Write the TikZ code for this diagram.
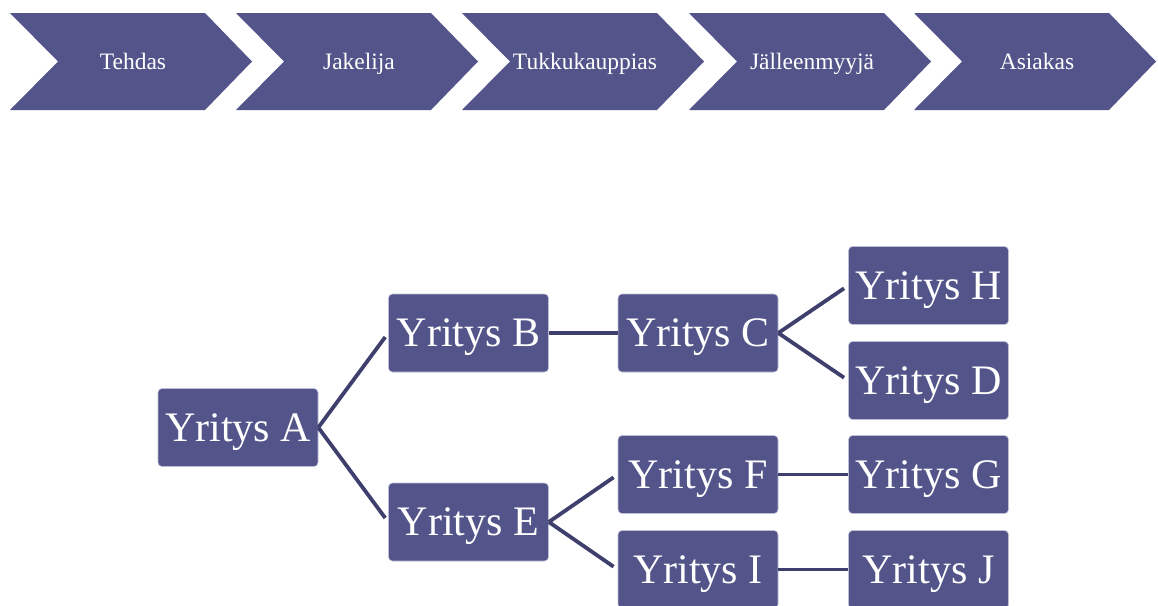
\documentclass[tikz,border=0pt]{standalone}
\usepackage{fontspec}
\setmainfont{Liberation Serif}
\definecolor{boxfill}{RGB}{83,84,138}
\definecolor{linec}{RGB}{62,63,108}
\definecolor{boxedge}{RGB}{190,190,215}
\begin{document}
\begin{tikzpicture}[x=1pt,y=-1pt,
  chev/.style={fill=boxfill},
  chevtext/.style={text=white,font=\fontsize{23.5}{27}\selectfont,inner sep=0pt,anchor=base},
  firm/.style={fill=boxfill,draw=boxedge,line width=0.6pt,rounded corners=4pt,
    minimum width=160pt,minimum height=78pt,inner sep=0pt,text=white,
    font=\fontsize{42}{48}\selectfont,text height=29pt,text depth=2pt},
  link/.style={draw=linec,line width=3.8pt}]
\useasboundingbox[fill=white] (0,0) rectangle (1158,605);
% chevrons
\foreach \L/\t/\n in {10/Tehdas/c1,236/Jakelija/c2,462/Tukkukauppias/c3,689/Jälleenmyyjä/c4,914/Asiakas/c5}{
  \fill[chev] (\L,13) -- (\L+195,13) -- (\L+242,61.5) -- (\L+195,110) -- (\L,110) -- (\L+48,61.5) -- cycle;
  \node[chevtext] (\n) at (\L+123,69) {\t};
}
% firms
\node[firm] (A) at (238,427.5) {Yritys A};
\node[firm] (B) at (468.5,333) {Yritys B};
\node[firm] (E) at (468.5,522) {Yritys E};
\node[firm] (C) at (698,333) {Yritys C};
\node[firm] (F) at (698,474.5) {Yritys F};
\node[firm] (I) at (698,569.5) {Yritys I};
\node[firm] (H) at (928.5,285.5) {Yritys H};
\node[firm] (D) at (928.5,380.5) {Yritys D};
\node[firm] (G) at (928.5,474.5) {Yritys G};
\node[firm] (J) at (928.5,569.5) {Yritys J};
% connectors
\draw[link,shorten >=5pt] (A.east) -- (B.west);
\draw[link,shorten >=5pt] (A.east) -- (E.west);
\draw[link] (B.east) -- (C.west);
\draw[link,shorten >=5pt] (C.east) -- (H.west);
\draw[link,shorten >=5pt] (C.east) -- (D.west);
\draw[link,shorten >=5pt] (E.east) -- (F.west);
\draw[link,shorten >=5pt] (E.east) -- (I.west);
\draw[link] (F.east) -- (G.west);
\draw[link] (I.east) -- (J.west);
\end{tikzpicture}
\end{document}
